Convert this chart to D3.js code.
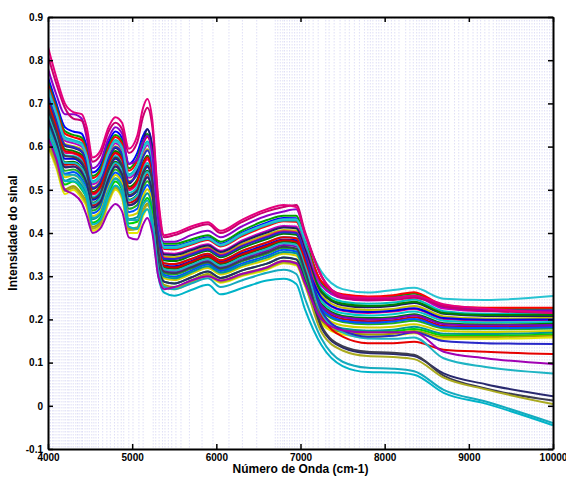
<!DOCTYPE html>
<html>
<head>
<meta charset="utf-8">
<script src="https://cdn.jsdelivr.net/npm/d3@7"></script>
<style>
body { margin: 0; background: #fff; }
text { font-family: "Liberation Sans", Arial, sans-serif; font-weight: bold; }
</style>
</head>
<body>
<div id="chart"></div>
<script>
var wavenumbers = [4000, 4100, 4200, 4300, 4400, 4460, 4530, 4620, 4720, 4800, 4880, 4960, 5060, 5130, 5180, 5240,
  5310, 5380, 5500, 5700, 5900, 6050, 6300, 6600, 6800, 6950, 7050, 7250, 7500, 7800, 8100, 8350, 8700, 9200, 10000];

var spectra = [
  [0.76,0.70,0.645,0.635,0.63,0.60,0.54,0.555,0.61,0.635,0.62,0.56,0.585,0.625,0.64,0.60,0.434,0.37,0.37,0.38,0.39,0.375,0.40,0.424,0.435,0.434,0.385,0.28,0.25,0.245,0.248,0.255,0.227,0.221,0.221],
  [0.750,0.691,0.636,0.627,0.621,0.592,0.532,0.547,0.602,0.627,0.612,0.550,0.574,0.614,0.629,0.589,0.44,0.375,0.375,0.385,0.395,0.38,0.405,0.43,0.44,0.44,0.39,0.285,0.255,0.250,0.253,0.260,0.231,0.224,0.225],
  [0.744,0.685,0.630,0.622,0.615,0.586,0.527,0.541,0.596,0.622,0.606,0.544,0.567,0.607,0.622,0.582,0.424,0.363,0.362,0.373,0.384,0.369,0.392,0.416,0.427,0.426,0.377,0.288,0.258,0.253,0.256,0.263,0.233,0.227,0.227],
  [0.736,0.678,0.622,0.615,0.608,0.579,0.520,0.534,0.589,0.615,0.599,0.536,0.557,0.597,0.612,0.573,0.427,0.365,0.365,0.375,0.386,0.371,0.395,0.419,0.429,0.429,0.379,0.27,0.241,0.236,0.239,0.246,0.219,0.213,0.214],
  [0.728,0.67,0.614,0.608,0.60,0.572,0.513,0.527,0.582,0.608,0.592,0.528,0.548,0.588,0.603,0.564,0.411,0.353,0.352,0.363,0.374,0.359,0.382,0.405,0.416,0.415,0.366,0.278,0.249,0.244,0.246,0.253,0.225,0.219,0.22],
  [0.72,0.663,0.606,0.601,0.593,0.565,0.506,0.52,0.575,0.601,0.585,0.52,0.539,0.579,0.594,0.555,0.401,0.345,0.344,0.355,0.367,0.352,0.374,0.396,0.407,0.406,0.357,0.255,0.227,0.222,0.224,0.231,0.207,0.202,0.204],
  [0.715,0.658,0.602,0.597,0.588,0.561,0.502,0.516,0.571,0.597,0.581,0.515,0.545,0.61,0.64,0.59,0.408,0.35,0.349,0.36,0.371,0.356,0.379,0.401,0.413,0.411,0.363,0.262,0.233,0.228,0.231,0.238,0.213,0.208,0.208],
  [0.707,0.651,0.594,0.590,0.581,0.554,0.495,0.509,0.564,0.590,0.574,0.507,0.524,0.564,0.579,0.541,0.391,0.337,0.335,0.347,0.359,0.344,0.365,0.386,0.398,0.396,0.348,0.265,0.236,0.231,0.234,0.241,0.215,0.21,0.211],
  [0.699,0.643,0.586,0.584,0.573,0.547,0.489,0.502,0.557,0.584,0.567,0.499,0.515,0.555,0.570,0.532,0.397,0.342,0.340,0.352,0.364,0.349,0.370,0.392,0.404,0.402,0.354,0.248,0.220,0.215,0.218,0.224,0.201,0.197,0.199],
  [0.693,0.637,0.580,0.578,0.567,0.541,0.483,0.496,0.551,0.578,0.561,0.493,0.507,0.547,0.562,0.524,0.382,0.33,0.328,0.34,0.352,0.337,0.358,0.378,0.391,0.388,0.341,0.242,0.214,0.209,0.212,0.218,0.197,0.193,0.194],
  [0.685,0.630,0.572,0.572,0.560,0.534,0.477,0.489,0.544,0.572,0.554,0.485,0.498,0.538,0.553,0.515,0.375,0.325,0.323,0.335,0.348,0.333,0.353,0.373,0.385,0.383,0.335,0.25,0.222,0.217,0.22,0.226,0.203,0.199,0.2],
  [0.677,0.622,0.564,0.565,0.552,0.527,0.470,0.482,0.537,0.565,0.547,0.477,0.489,0.529,0.544,0.506,0.369,0.32,0.317,0.33,0.343,0.328,0.347,0.367,0.380,0.377,0.330,0.235,0.208,0.203,0.205,0.212,0.191,0.188,0.190],
  [0.670,0.616,0.558,0.559,0.546,0.522,0.464,0.477,0.532,0.559,0.542,0.470,0.481,0.521,0.536,0.499,0.372,0.323,0.320,0.333,0.346,0.331,0.350,0.370,0.383,0.380,0.333,0.228,0.201,0.196,0.198,0.205,0.185,0.183,0.185],
  [0.664,0.61,0.552,0.554,0.54,0.516,0.459,0.471,0.526,0.554,0.536,0.464,0.474,0.514,0.529,0.492,0.359,0.313,0.310,0.323,0.336,0.321,0.340,0.359,0.372,0.369,0.322,0.232,0.205,0.2,0.202,0.209,0.189,0.186,0.187],
  [0.656,0.603,0.544,0.547,0.533,0.509,0.452,0.464,0.519,0.547,0.529,0.456,0.465,0.505,0.52,0.483,0.352,0.307,0.304,0.317,0.330,0.315,0.334,0.352,0.365,0.362,0.315,0.22,0.194,0.189,0.191,0.197,0.179,0.177,0.179],
  [0.648,0.595,0.537,0.541,0.525,0.502,0.446,0.457,0.512,0.54,0.522,0.448,0.456,0.496,0.511,0.474,0.346,0.303,0.299,0.313,0.327,0.312,0.329,0.347,0.361,0.357,0.311,0.224,0.197,0.192,0.195,0.201,0.182,0.18,0.182],
  [0.64,0.588,0.529,0.534,0.518,0.495,0.439,0.45,0.505,0.534,0.515,0.44,0.446,0.486,0.501,0.465,0.336,0.295,0.291,0.305,0.319,0.304,0.321,0.338,0.352,0.348,0.302,0.212,0.186,0.181,0.183,0.189,0.173,0.171,0.173],
  [0.632,0.58,0.521,0.527,0.51,0.488,0.432,0.443,0.498,0.527,0.508,0.432,0.437,0.477,0.492,0.456,0.341,0.299,0.295,0.309,0.323,0.308,0.325,0.343,0.356,0.353,0.306,0.205,0.179,0.174,0.176,0.183,0.167,0.166,0.169],
  [0.622,0.571,0.512,0.519,0.501,0.480,0.424,0.435,0.49,0.519,0.50,0.422,0.426,0.466,0.481,0.445,0.326,0.287,0.283,0.297,0.311,0.296,0.313,0.329,0.343,0.339,0.293,0.2,0.175,0.17,0.172,0.178,0.163,0.162,0.165],
  [0.611,0.561,0.501,0.509,0.49,0.470,0.414,0.425,0.48,0.509,0.49,0.411,0.413,0.453,0.468,0.433,0.317,0.28,0.275,0.29,0.305,0.29,0.305,0.321,0.336,0.331,0.285,0.195,0.17,0.165,0.167,0.173,0.159,0.159,0.162],
  [0.60,0.55,0.49,0.50,0.48,0.46,0.405,0.415,0.47,0.50,0.48,0.40,0.40,0.44,0.455,0.42,0.31,0.275,0.27,0.285,0.30,0.285,0.30,0.315,0.33,0.325,0.28,0.19,0.165,0.16,0.162,0.168,0.155,0.155,0.158],
  [0.70,0.646,0.59,0.586,0.577,0.55,0.492,0.505,0.56,0.586,0.57,0.503,0.52,0.56,0.575,0.537,0.38,0.33,0.328,0.34,0.352,0.337,0.358,0.378,0.39,0.388,0.34,0.21,0.16,0.145,0.145,0.148,0.13,0.125,0.12],
  [0.674,0.62,0.562,0.562,0.55,0.525,0.468,0.48,0.535,0.562,0.545,0.475,0.487,0.527,0.541,0.504,0.362,0.316,0.313,0.326,0.339,0.324,0.343,0.363,0.376,0.373,0.325,0.215,0.17,0.156,0.155,0.158,0.11,0.09,0.075],
  [0.718,0.66,0.604,0.599,0.59,0.563,0.504,0.518,0.573,0.599,0.583,0.518,0.536,0.576,0.591,0.552,0.395,0.34,0.34,0.35,0.362,0.347,0.369,0.39,0.402,0.40,0.352,0.22,0.175,0.16,0.162,0.17,0.15,0.145,0.143],
  [0.73,0.674,0.618,0.612,0.604,0.576,0.517,0.531,0.586,0.612,0.596,0.532,0.553,0.593,0.608,0.569,0.43,0.368,0.368,0.378,0.388,0.373,0.398,0.421,0.432,0.432,0.39,0.31,0.27,0.262,0.268,0.273,0.248,0.245,0.254],
  [0.664,0.61,0.552,0.554,0.54,0.516,0.459,0.471,0.526,0.554,0.536,0.464,0.474,0.514,0.529,0.492,0.326,0.287,0.283,0.297,0.311,0.296,0.313,0.329,0.343,0.339,0.29,0.18,0.135,0.122,0.12,0.115,0.075,0.05,0.022],
  [0.69,0.635,0.578,0.576,0.564,0.538,0.48,0.492,0.548,0.575,0.557,0.488,0.50,0.54,0.556,0.518,0.36,0.31,0.307,0.32,0.333,0.318,0.336,0.355,0.368,0.364,0.315,0.185,0.138,0.125,0.123,0.118,0.07,0.04,0.012],
  [0.605,0.556,0.497,0.505,0.486,0.466,0.41,0.421,0.476,0.505,0.486,0.407,0.409,0.449,0.464,0.429,0.312,0.276,0.272,0.287,0.302,0.287,0.302,0.318,0.332,0.328,0.282,0.17,0.128,0.115,0.113,0.108,0.065,0.038,0.004],
  [0.645,0.595,0.535,0.535,0.52,0.495,0.435,0.445,0.50,0.525,0.505,0.43,0.43,0.465,0.475,0.43,0.315,0.275,0.27,0.283,0.295,0.275,0.29,0.308,0.315,0.305,0.25,0.155,0.102,0.088,0.086,0.08,0.037,0.01,-0.04],
  [0.63,0.58,0.52,0.52,0.505,0.48,0.42,0.43,0.485,0.51,0.49,0.415,0.41,0.445,0.455,0.41,0.30,0.262,0.255,0.268,0.28,0.258,0.272,0.29,0.294,0.282,0.225,0.14,0.092,0.078,0.077,0.072,0.03,0.005,-0.045],
  [0.62,0.57,0.50,0.49,0.47,0.44,0.40,0.41,0.45,0.467,0.45,0.39,0.385,0.42,0.435,0.40,0.30,0.27,0.275,0.29,0.30,0.29,0.305,0.32,0.335,0.33,0.285,0.20,0.175,0.17,0.17,0.17,0.125,0.11,0.097],
  [0.78,0.72,0.675,0.675,0.665,0.62,0.55,0.565,0.62,0.645,0.63,0.56,0.57,0.61,0.625,0.58,0.43,0.38,0.38,0.395,0.405,0.39,0.415,0.44,0.45,0.455,0.40,0.30,0.255,0.248,0.25,0.255,0.23,0.222,0.22],
  [0.81,0.745,0.69,0.665,0.66,0.63,0.565,0.58,0.635,0.655,0.64,0.585,0.61,0.67,0.69,0.645,0.47,0.39,0.395,0.41,0.42,0.40,0.425,0.45,0.46,0.465,0.405,0.30,0.25,0.245,0.245,0.25,0.23,0.22,0.215],
  [0.83,0.76,0.70,0.68,0.675,0.645,0.575,0.59,0.645,0.668,0.655,0.595,0.625,0.69,0.71,0.66,0.48,0.395,0.40,0.415,0.425,0.405,0.43,0.455,0.465,0.46,0.40,0.30,0.255,0.25,0.25,0.255,0.235,0.225,0.215]
];

var lineColors = ["#0000ff", "#00a000", "#ff0000", "#00bfbf", "#bf00bf", "#bfbf00", "#1e1e64", "#008000",
  "#e6007e", "#00c8c8", "#0000e0", "#007800", "#d00000", "#8000c0", "#20b020", "#0050ff", "#d2d200",
  "#009696", "#00d200", "#a0a000", "#e6e600", "#e60000", "#1eb4c3", "#2828c8", "#28c3d2", "#28286e",
  "#3c3c50", "#aaaa1e", "#14aabe", "#00b4c8", "#a000b4", "#8c00c8", "#c8006e", "#e4007c"];

// selected variables (vertical dotted lines)
var selectedVars = [4010, 4030, 4055, 4070, 4095, 4120, 4140, 4165, 4190, 4210, 4235, 4250, 4275, 4300, 4330, 4350,
  4370, 4395, 4410, 4440, 4465, 4490, 4520, 4545, 4570, 4600, 4650, 4700, 4740, 4790, 4830, 4870, 4900, 4960, 5010,
  5080, 5130, 5250, 5280, 5320, 5360, 5390, 5430, 5470, 5520, 5580, 5680, 5830, 5960, 6150, 6310, 6480,
  6700, 6730, 6760, 6790, 6810, 6840, 6870, 6900, 6930, 6960, 6990, 7020, 7060, 7100, 7150,
  7210, 7300, 7340, 7400, 7470, 7530, 7580, 7640, 7700, 7760, 7800, 7830, 7860, 7900, 7930, 7960, 8000, 8040, 8080,
  8120, 8170, 8250, 8300, 8340, 8380, 8410, 8440, 8470, 8500, 8540, 8570, 8600, 8640, 8680, 8720, 8760, 8830, 8880,
  8930, 8990, 9050, 9100, 9140, 9190, 9240, 9290, 9330, 9360, 9390, 9420, 9450, 9480, 9510, 9540, 9570, 9600, 9630,
  9660, 9690, 9720, 9750, 9780, 9810, 9840, 9870, 9900, 9930, 9960, 9985];

var xTicks = [4000, 5000, 6000, 7000, 8000, 9000, 10000];
var yTicks = [-0.1, 0, 0.1, 0.2, 0.3, 0.4, 0.5, 0.6, 0.7, 0.8, 0.9];

var margin = {top: 17, right: 13, bottom: 30, left: 48},
    width = 566 - margin.left - margin.right,
    height = 479 - margin.top - margin.bottom;

var xScale = d3.scaleLinear().domain([4000, 10000]).range([0, width]);
var yScale = d3.scaleLinear().domain([-0.1, 0.9]).range([height, 0]);

var svg = d3.select("#chart").append("svg")
    .attr("width", width + margin.left + margin.right)
    .attr("height", height + margin.top + margin.bottom)
  .append("g")
    .attr("transform", "translate(" + margin.left + "," + margin.top + ")");

svg.append("clipPath").attr("id", "plotclip")
  .append("rect").attr("width", width).attr("height", height);

var plot = svg.append("g").attr("clip-path", "url(#plotclip)");

plot.selectAll(".sel")
  .data(selectedVars)
  .enter().append("line")
    .attr("class", "sel")
    .attr("x1", function(d) { return xScale(d); })
    .attr("x2", function(d) { return xScale(d); })
    .attr("y1", 0)
    .attr("y2", height)
    .style("stroke", "#9a9ae2")
    .style("stroke-width", 1)
    .style("stroke-opacity", 0.32)
    .style("stroke-dasharray", "1.5,1.5");

var line = d3.line()
  .x(function(d, i) { return xScale(wavenumbers[i]); })
  .y(function(d) { return yScale(d); })
  .curve(d3.curveMonotoneX);

plot.selectAll(".spec")
  .data(spectra)
  .enter().append("path")
    .attr("class", "spec")
    .attr("d", line)
    .style("fill", "none")
    .style("stroke", function(d, i) { return lineColors[i]; })
    .style("stroke-width", 2);

var fmt = function(d) { return String(d); };

function styleAxis(g) {
  g.selectAll(".domain").style("stroke", "#000").style("stroke-width", 2);
  g.selectAll(".tick line").style("stroke", "#000").style("stroke-width", 1.5);
  g.selectAll("text").style("font-size", "10px").style("fill", "#000");
}

svg.append("g")
  .attr("transform", "translate(0," + height + ")")
  .call(d3.axisBottom(xScale).tickValues(xTicks).tickFormat(fmt).tickSizeInner(-5).tickSizeOuter(0).tickPadding(5))
  .call(styleAxis);

svg.append("g")
  .call(d3.axisTop(xScale).tickValues(xTicks).tickFormat("").tickSizeInner(-5).tickSizeOuter(0))
  .call(styleAxis);

svg.append("g")
  .call(d3.axisLeft(yScale).tickValues(yTicks).tickFormat(fmt).tickSizeInner(-5).tickSizeOuter(0).tickPadding(5))
  .call(styleAxis);

svg.append("g")
  .attr("transform", "translate(" + width + ",0)")
  .call(d3.axisRight(yScale).tickValues(yTicks).tickFormat("").tickSizeInner(-5).tickSizeOuter(0))
  .call(styleAxis);

svg.append("text")
  .attr("x", width / 2)
  .attr("y", height + 24)
  .attr("text-anchor", "middle")
  .style("font-size", "12px")
  .text("Número de Onda (cm-1)");

svg.append("text")
  .attr("transform", "rotate(-90)")
  .attr("x", -height / 2)
  .attr("y", -31)
  .attr("text-anchor", "middle")
  .style("font-size", "12px")
  .text("Intensidade do sinal");
</script>
</body>
</html>
